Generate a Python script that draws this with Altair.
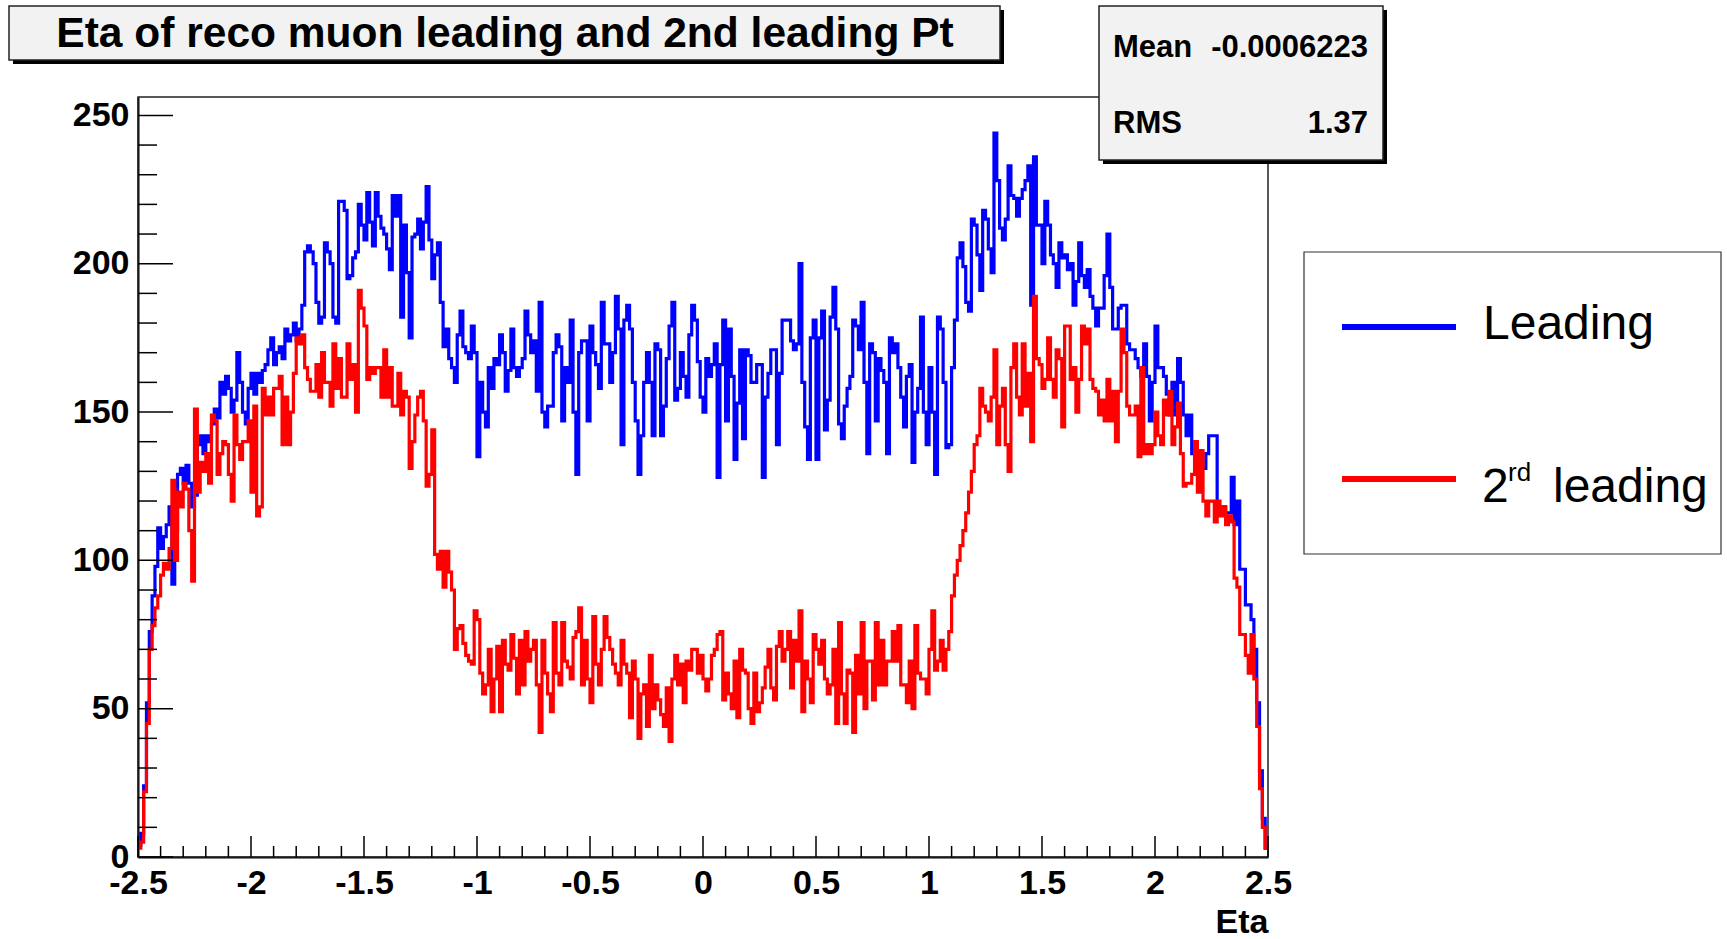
import altair as alt
import pandas as pd

# ---------------- data (0.0125-wide eta bins) ----------------
eta_low, eta_high, n_bins = -2.5, 2.5, 400

leading = [
    # -2.5 .. -1.25
    4, 8, 24, 52, 76, 88, 98, 111, 104, 108, 112, 118, 92, 110, 129, 131, 126, 132, 126, 118,
    122, 139, 142, 136, 142, 140, 146, 151, 148, 160, 156, 162, 158, 150, 154, 170, 160, 150, 146, 158,
    163, 156, 163, 160, 164, 166, 171, 175, 166, 170, 172, 168, 178, 174, 176, 180, 174, 178, 186, 204,
    206, 204, 200, 187, 180, 182, 207, 204, 200, 182, 180, 221, 221, 218, 195, 196, 202, 204, 220, 213,
    208, 224, 214, 206, 224, 216, 212, 210, 205, 198, 223, 216, 223, 182, 213, 197, 175, 209, 210, 215,
    # -1.25 .. 0
    205, 214, 226, 208, 195, 203, 207, 187, 172, 178, 168, 165, 160, 176, 184, 172, 170, 168, 179, 170,
    135, 160, 150, 145, 165, 158, 168, 166, 176, 170, 157, 164, 178, 165, 162, 165, 168, 184, 176, 170,
    174, 157, 187, 150, 145, 152, 152, 170, 176, 172, 147, 165, 160, 181, 150, 129, 170, 174, 174, 147,
    179, 170, 166, 158, 187, 173, 173, 160, 170, 189, 178, 139, 181, 186, 178, 160, 147, 129, 142, 160,
    170, 160, 142, 173, 171, 142, 152, 168, 179, 187, 154, 158, 170, 162, 155, 176, 186, 181, 167, 155,
    # 0 .. 1.25
    150, 168, 162, 166, 173, 128, 166, 181, 147, 178, 162, 134, 153, 171, 141, 171, 169, 160, 160, 166,
    166, 128, 155, 163, 171, 171, 139, 163, 181, 181, 181, 174, 171, 173, 200, 160, 145, 134, 175, 181,
    134, 175, 184, 144, 154, 182, 192, 178, 146, 141, 152, 158, 162, 181, 179, 171, 187, 160, 136, 173,
    170, 147, 168, 164, 160, 136, 175, 170, 173, 165, 155, 145, 162, 166, 133, 150, 158, 182, 150, 139,
    165, 150, 129, 182, 178, 160, 138, 139, 165, 181, 202, 207, 199, 187, 184, 215, 213, 203, 191, 218,
    # 1.25 .. 2.5
    215, 205, 197, 244, 228, 212, 208, 215, 233, 223, 222, 216, 222, 225, 228, 233, 186, 236, 213, 213,
    200, 221, 213, 203, 200, 192, 207, 202, 203, 198, 200, 186, 194, 207, 196, 192, 198, 189, 185, 179,
    185, 185, 196, 210, 192, 178, 178, 185, 186, 186, 173, 171, 171, 168, 165, 162, 173, 162, 147, 160,
    179, 165, 165, 162, 156, 149, 160, 149, 168, 160, 149, 142, 149, 136, 136, 134, 131, 131, 136, 142,
    142, 142, 116, 118, 118, 116, 116, 128, 112, 120, 97, 97, 85, 85, 80, 70, 52, 29, 13, 3,
]

second = [
    # -2.5 .. -1.25
    3, 5, 22, 45, 70, 78, 84, 88, 95, 99, 97, 104, 127, 100, 123, 118, 126, 124, 110, 93,
    151, 123, 133, 130, 136, 126, 149, 147, 129, 136, 140, 139, 129, 120, 149, 139, 134, 140, 140, 147,
    123, 152, 115, 118, 158, 149, 155, 149, 158, 158, 162, 139, 155, 139, 150, 163, 175, 173, 176, 165,
    161, 157, 157, 166, 155, 170, 160, 160, 152, 173, 158, 168, 155, 155, 173, 161, 166, 150, 191, 185,
    179, 161, 165, 163, 165, 165, 155, 171, 155, 165, 152, 152, 163, 149, 157, 155, 131, 140, 149, 155,
    # -1.25 .. 0
    157, 147, 125, 129, 144, 102, 97, 103, 91, 103, 96, 90, 70, 77, 78, 72, 68, 66, 65, 83,
    80, 62, 55, 58, 70, 49, 60, 71, 49, 73, 65, 63, 75, 67, 55, 73, 58, 76, 66, 70,
    73, 58, 42, 73, 62, 55, 49, 79, 62, 58, 79, 66, 64, 60, 74, 76, 84, 58, 73, 60,
    52, 81, 65, 58, 70, 81, 74, 70, 65, 62, 58, 73, 65, 62, 47, 66, 60, 40, 55, 58,
    44, 68, 50, 58, 53, 48, 44, 57, 39, 60, 68, 58, 65, 52, 66, 63, 70, 70, 62, 68,
    # 0 .. 1.25
    60, 56, 60, 68, 70, 75, 76, 53, 62, 55, 50, 66, 47, 70, 63, 62, 50, 45, 62, 49,
    52, 57, 64, 70, 57, 53, 71, 76, 66, 70, 76, 57, 73, 66, 83, 49, 66, 60, 52, 75,
    70, 65, 73, 60, 55, 58, 70, 45, 79, 55, 45, 63, 62, 42, 68, 55, 79, 50, 66, 66,
    53, 79, 58, 73, 58, 66, 66, 76, 66, 78, 58, 58, 52, 66, 50, 78, 62, 60, 60, 55,
    70, 83, 63, 66, 73, 63, 70, 76, 88, 95, 100, 105, 110, 116, 123, 130, 139, 142, 158, 152,
    # 1.25 .. 2.5
    150, 147, 155, 171, 139, 152, 158, 139, 130, 165, 173, 155, 149, 173, 152, 163, 140, 189, 168, 166,
    158, 161, 175, 161, 155, 171, 168, 145, 179, 179, 161, 165, 150, 161, 179, 173, 178, 161, 158, 157,
    149, 154, 147, 161, 147, 157, 140, 157, 178, 170, 152, 149, 149, 152, 135, 165, 136, 139, 136, 139,
    150, 142, 139, 154, 149, 157, 139, 145, 153, 136, 125, 126, 126, 129, 140, 123, 137, 120, 115, 120,
    120, 113, 120, 115, 118, 112, 115, 113, 94, 91, 75, 75, 68, 62, 75, 60, 44, 23, 10, 3,
]

series_names = ["Leading", "2nd leading"]
series_colors = ["#0000ff", "#ff0000"]

x_major_ticks = [-2.5, -2, -1.5, -1, -0.5, 0, 0.5, 1, 1.5, 2, 2.5]
x_minor_ticks = [round(-2.5 + 0.1 * i, 1) for i in range(51) if i % 5]
y_major_ticks = [0, 50, 100, 150, 200, 250]
y_minor_ticks = [v for v in range(0, 251, 10) if v % 50]

title_text = "Eta of reco muon leading and 2nd leading Pt"
stats_mean = "-0.0006223"
stats_rms = "1.37"

# ---------------- build tables ----------------
bin_w = (eta_high - eta_low) / n_bins
rows = []
for name, vals in zip(series_names, [leading, second]):
    for i, v in enumerate(vals):
        rows.append({"series": name, "eta": round(eta_low + i * bin_w, 5), "count": v})
    rows.append({"series": name, "eta": eta_high, "count": vals[-1]})
hist = pd.DataFrame(rows)

one = pd.DataFrame({"a": [0]})
FONT = "Liberation Sans"
W, H = 1130, 760
PL, PT = 138, 97
YMAX = 256.2

xscale = alt.Scale(domain=[eta_low, eta_high], nice=False, zero=False)
yscale = alt.Scale(domain=[0, YMAX], nice=False, zero=True)

x_axis = alt.Axis(values=x_major_ticks, ticks=False, grid=False,
                  labelExpr="'' + datum.value", labelFlush=False, labelOverlap=False,
                  labelFont=FONT, labelFontSize=34, labelFontWeight="bold", labelColor="black",
                  labelPadding=9, domainColor="black", domainWidth=2,
                  title="Eta", titleFont=FONT, titleFontSize=34, titleFontWeight="bold",
                  titleColor="black", titleX=W, titleY=75, titleAlign="right",
                  titleBaseline="alphabetic")
y_axis = alt.Axis(values=y_major_ticks, ticks=False, grid=False, title=None,
                  labelFont=FONT, labelFontSize=34, labelFontWeight="bold", labelColor="black",
                  labelPadding=9, labelOverlap=False, labelFlush=False,
                  domainColor="black", domainWidth=2)


def hist_layer(name, color):
    return alt.Chart(hist).transform_filter(alt.datum.series == name).mark_line(
        interpolate="step-after", color=color, strokeWidth=3.2, strokeJoin="miter"
    ).encode(
        x=alt.X("eta:Q", scale=xscale, axis=x_axis, title="Eta"),
        y=alt.Y("count:Q", scale=yscale, axis=y_axis, title=None),
    )


frame = alt.Chart(one).mark_rect(fill="white", fillOpacity=0, stroke="#222222", strokeWidth=1.5).encode(
    x=alt.value(0), x2=alt.value(W), y=alt.value(0), y2=alt.value(H))

xt_major = alt.Chart(pd.DataFrame({"eta": x_major_ticks})).mark_rule(color="black", strokeWidth=1.5).encode(
    x=alt.X("eta:Q", scale=xscale, axis=x_axis, title="Eta"), y=alt.value(H), y2=alt.value(H - 21))
xt_minor = alt.Chart(pd.DataFrame({"eta": x_minor_ticks})).mark_rule(color="black", strokeWidth=1.5).encode(
    x=alt.X("eta:Q", scale=xscale, axis=x_axis, title="Eta"), y=alt.value(H), y2=alt.value(H - 11))
yt_major = alt.Chart(pd.DataFrame({"count": y_major_ticks})).mark_rule(color="black", strokeWidth=1.5).encode(
    y=alt.Y("count:Q", scale=yscale, axis=y_axis, title=None), x=alt.value(0), x2=alt.value(35))
yt_minor = alt.Chart(pd.DataFrame({"count": y_minor_ticks})).mark_rule(color="black", strokeWidth=1.5).encode(
    y=alt.Y("count:Q", scale=yscale, axis=y_axis, title=None), x=alt.value(0), x2=alt.value(19))


def box(x1, y1, x2, y2, fill, stroke, sw=1.5, opacity=1):
    return alt.Chart(one).mark_rect(fill=fill, fillOpacity=opacity, stroke=stroke, strokeWidth=sw).encode(
        x=alt.value(x1 - PL), x2=alt.value(x2 - PL), y=alt.value(y1 - PT), y2=alt.value(y2 - PT))


def shadow(x1, y1, x2, y2):
    return alt.Chart(one).mark_rect(fill="black").encode(
        x=alt.value(x1 - PL + 4), x2=alt.value(x2 - PL + 4), y=alt.value(y1 - PT + 4), y2=alt.value(y2 - PT + 4))


def label(text, x, y, size, align="left", weight="bold"):
    return alt.Chart(one).mark_text(font=FONT, fontSize=size, fontWeight=weight, align=align,
                                    baseline="alphabetic", color="black").encode(
        x=alt.value(x - PL), y=alt.value(y - PT), text=alt.value(text))


def legend_line(color, y):
    return alt.Chart(one).mark_rule(color=color, strokeWidth=6).encode(
        x=alt.value(1342 - PL), x2=alt.value(1456 - PL), y=alt.value(y - PT))


chart = alt.layer(
    hist_layer(series_names[0], series_colors[0]),
    hist_layer(series_names[1], series_colors[1]),
    frame, xt_major, xt_minor, yt_major, yt_minor,
    shadow(9, 6, 1000, 60), box(9, 6, 1000, 60, "#f2f2f2", "#222222"),
    label(title_text, 505, 47, 42.5, align="center"),
    shadow(1099, 6, 1383, 160), box(1099, 6, 1383, 160, "#f2f2f2", "#222222"),
    label("Mean", 1113, 57, 31), label(stats_mean, 1368, 57, 31, align="right"),
    label("RMS", 1113, 133, 31), label(stats_rms, 1368, 133, 31, align="right"),
    box(1304, 252, 1721, 554, "white", "#333333", sw=1.2, opacity=0),
    legend_line(series_colors[0], 327), legend_line(series_colors[1], 479),
    label("Leading", 1483, 339, 48, weight="normal"),
    label("2", 1482, 502, 48, weight="normal"),
    label("rd", 1508, 481, 26, weight="normal"),
    label("leading", 1553, 502, 48, weight="normal"),
).properties(
    width=W, height=H,
    padding={"left": PL, "top": PT, "right": 1727 - PL - W, "bottom": 939 - PT - H},
    autosize="none", background="white",
).configure_view(stroke=None)

chart.save("out.html", embed_options={"renderer": "svg", "actions": False})
